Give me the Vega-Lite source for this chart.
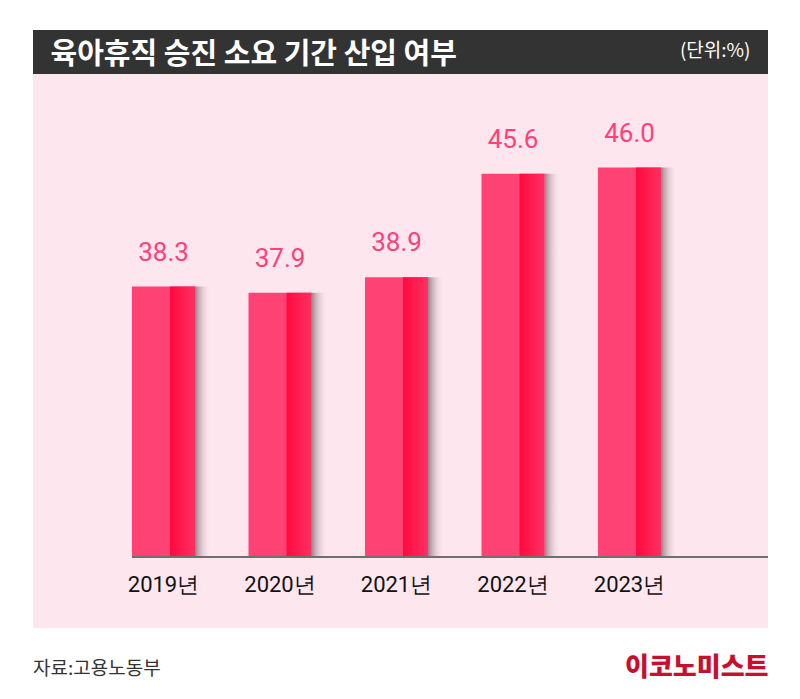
{
  "$schema": "https://vega.github.io/schema/vega-lite/v6.json",
  "background": "#ffffff",
  "padding": {"left": 33, "top": 24, "right": 32, "bottom": 10},
  "spacing": 0,
  "bounds": "flush",
  "config": {"view": {"stroke": null}, "font": "Noto Sans CJK KR"},
  "vconcat": [
    {
      "width": 735,
      "height": 44,
      "view": {"fill": "#333333", "stroke": null},
      "data": {"values": [{"t": ""}]},
      "mark": {"type": "text"},
      "encoding": {
        "text": {"field": "t", "type": "nominal"},
        "y": {
          "datum": 0,
          "type": "quantitative",
          "axis": {
            "title": "육아휴직 승진 소요 기간 산입 여부",
            "domain": false,
            "ticks": false,
            "labels": false,
            "grid": false,
            "titleAngle": 0,
            "titleX": 17,
            "titleY": 33,
            "titleAlign": "left",
            "titleBaseline": "alphabetic",
            "titleColor": "#ffffff",
            "titleFont": "Noto Sans CJK KR",
            "titleFontSize": 29,
            "titleFontWeight": "bold"
          }
        }
      }
    },
    {
      "width": 735,
      "height": 554,
      "view": {"fill": "#fde6ee", "stroke": null},
      "data": {
        "values": [
          {"year": "2019", "value": 38.3},
          {"year": "2020", "value": 37.9},
          {"year": "2021", "value": 38.9},
          {"year": "2022", "value": 45.6},
          {"year": "2023", "value": 46.0}
        ]
      },
      "title": {
        "text": "자료:고용노동부",
        "orient": "bottom",
        "anchor": "start",
        "frame": "group",
        "offset": -11,
        "baseline": "middle",
        "color": "#333333",
        "font": "Noto Sans CJK KR",
        "fontSize": 19,
        "fontWeight": "normal"
      },
      "encoding": {
        "x": {
          "field": "year",
          "type": "nominal",
          "sort": null,
          "scale": {"type": "band", "paddingInner": 0.459, "paddingOuter": 0.884, "align": 0.4806},
          "axis": {
            "orient": "bottom",
            "offset": -71,
            "domain": false,
            "ticks": false,
            "labelAngle": 0,
            "labelExpr": "datum.label + '년'",
            "labelFont": "Roboto",
            "labelFontSize": 22,
            "labelFontWeight": "normal",
            "labelColor": "#111111",
            "labelPadding": 17,
            "title": "이코노미스트",
            "titleX": 735,
            "titleY": 110,
            "titleAlign": "right",
            "titleBaseline": "middle",
            "titleColor": "#c8102e",
            "titleFont": "Noto Sans CJK KR",
            "titleFontSize": 26,
            "titleFontWeight": 900
          }
        },
        "y": {
          "field": "value",
          "type": "quantitative",
          "scale": {"domain": [16.2, 52.06], "zero": false, "nice": false},
          "axis": {
            "title": "(단위:%)",
            "orient": "left",
            "domain": false,
            "ticks": false,
            "labels": false,
            "grid": false,
            "titleAngle": 0,
            "titleX": 717,
            "titleY": -24,
            "titleAlign": "right",
            "titleBaseline": "middle",
            "titleColor": "#ffffff",
            "titleFont": "Noto Sans CJK KR",
            "titleFontSize": 19,
            "titleFontWeight": "normal"
          }
        }
      },
      "layer": [
        {
          "mark": {
            "type": "bar",
            "width": 16,
            "xOffset": 39.5,
            "fill": {
              "gradient": "linear", "x1": 0, "x2": 1, "y1": 0, "y2": 0,
              "stops": [
                {"offset": 0, "color": "rgba(90,60,70,0.6)"},
                {"offset": 1, "color": "rgba(253,230,238,0)"}
              ]
            }
          },
          "encoding": {"y2": {"datum": 20.8}}
        },
        {
          "mark": {"type": "bar", "color": "#ff4274"},
          "encoding": {"y2": {"datum": 20.8}}
        },
        {
          "mark": {
            "type": "bar",
            "width": 25,
            "xOffset": 19,
            "fill": {
              "gradient": "linear", "x1": 0, "x2": 1, "y1": 0, "y2": 0,
              "stops": [
                {"offset": 0, "color": "#ff0a3e"},
                {"offset": 1, "color": "#ff3062"}
              ]
            }
          },
          "encoding": {"y2": {"datum": 20.8}}
        },
        {
          "mark": {"type": "rule", "color": "#6e6e6e", "strokeWidth": 2},
          "encoding": {
            "x": {"datum": "2019", "type": "nominal", "bandPosition": 0},
            "x2": {"value": "width"},
            "y": {"datum": 20.8, "type": "quantitative"}
          }
        },
        {
          "mark": {
            "type": "text",
            "baseline": "alphabetic",
            "dy": -26,
            "color": "#ff4179",
            "font": "Roboto",
            "fontSize": 26
          },
          "encoding": {"text": {"field": "value", "type": "quantitative", "format": ".1f"}}
        }
      ]
    }
  ]
}
